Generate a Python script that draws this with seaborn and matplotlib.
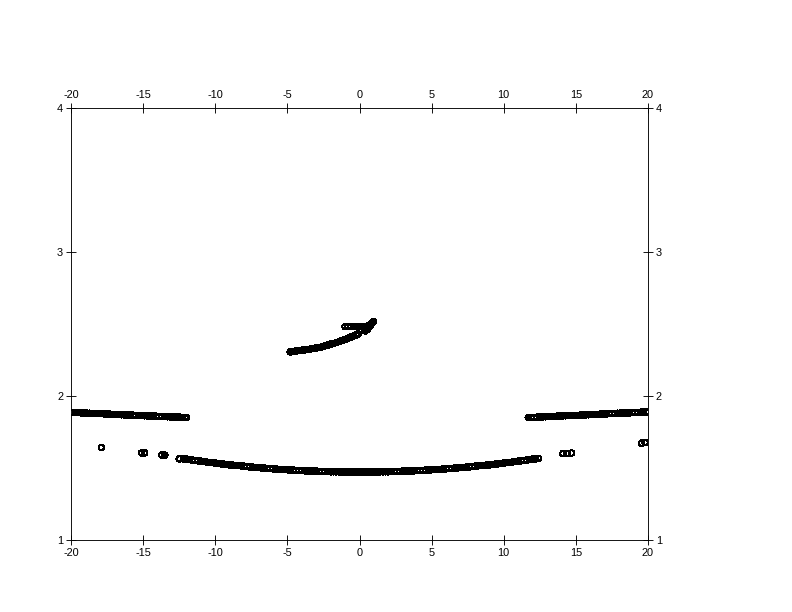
import matplotlib
matplotlib.use("Agg")
import matplotlib.pyplot as plt
import seaborn as sns
import pandas as pd

plt.rcParams["axes.unicode_minus"] = False

# Upper-left flat branch
xa = [-19.9, -19.7, -19.5, -19.3, -19.1, -18.9, -18.7, -18.5, -18.3, -18.1, -17.9, -17.7,
      -17.5, -17.3, -17.1, -16.9, -16.7, -16.5, -16.3, -16.1, -15.9, -15.7, -15.5, -15.3,
      -15.1, -14.9, -14.7, -14.5, -14.3, -14.1, -13.9, -13.7, -13.5, -13.3, -13.1, -12.9,
      -12.7, -12.5, -12.3, -12.1, -12.0]
ya = [1.886, 1.885, 1.884, 1.883, 1.882, 1.881, 1.880, 1.879, 1.878, 1.878, 1.877, 1.876,
      1.875, 1.874, 1.873, 1.872, 1.871, 1.870, 1.869, 1.869, 1.868, 1.867, 1.866, 1.865,
      1.864, 1.863, 1.862, 1.861, 1.860, 1.860, 1.859, 1.858, 1.857, 1.856, 1.855, 1.854,
      1.853, 1.853, 1.852, 1.851, 1.851]

# Upper-right flat branch
xb = [11.7, 11.9, 12.1, 12.3, 12.5, 12.7, 12.9, 13.1, 13.3, 13.5, 13.7, 13.9, 14.1, 14.3,
      14.5, 14.7, 14.9, 15.1, 15.3, 15.5, 15.7, 15.9, 16.1, 16.3, 16.5, 16.7, 16.9, 17.1,
      17.3, 17.5, 17.7, 17.9, 18.1, 18.3, 18.5, 18.7, 18.9, 19.1, 19.3, 19.5, 19.7, 19.9,
      20.0]
yb = [1.851, 1.851, 1.852, 1.853, 1.854, 1.855, 1.856, 1.857, 1.858, 1.859, 1.860, 1.861,
      1.862, 1.863, 1.864, 1.865, 1.866, 1.866, 1.867, 1.868, 1.869, 1.870, 1.871, 1.872,
      1.873, 1.874, 1.875, 1.876, 1.877, 1.878, 1.879, 1.880, 1.881, 1.881, 1.882, 1.883,
      1.884, 1.885, 1.886, 1.887, 1.888, 1.889, 1.889]

# Lower bowl-shaped branch
xc = [-12.2, -12.0, -11.8, -11.6, -11.4, -11.2, -11.0, -10.8, -10.6, -10.4, -10.2, -10.0,
      -9.8, -9.6, -9.4, -9.2, -9.0, -8.8, -8.6, -8.4, -8.2, -8.0, -7.8, -7.6, -7.4, -7.2,
      -7.0, -6.8, -6.6, -6.4, -6.2, -6.0, -5.8, -5.6, -5.4, -5.2, -5.0, -4.8, -4.6, -4.4,
      -4.2, -4.0, -3.8, -3.6, -3.4, -3.2, -3.0, -2.8, -2.6, -2.4, -2.2, -2.0, -1.8, -1.6,
      -1.4, -1.2, -1.0, -0.8, -0.6, -0.4, -0.2, 0.0, 0.2, 0.4, 0.6, 0.8, 1.0, 1.2, 1.4,
      1.6, 1.8, 2.0, 2.2, 2.4, 2.6, 2.8, 3.0, 3.2, 3.4, 3.6, 3.8, 4.0, 4.2, 4.4, 4.6, 4.8,
      5.0, 5.2, 5.4, 5.6, 5.8, 6.0, 6.2, 6.4, 6.6, 6.8, 7.0, 7.2, 7.4, 7.6, 7.8, 8.0, 8.2,
      8.4, 8.6, 8.8, 9.0, 9.2, 9.4, 9.6, 9.8, 10.0, 10.2, 10.4, 10.6, 10.8, 11.0, 11.2,
      11.4, 11.6, 11.8, 12.0, 12.2, 12.4]
yc = [1.564, 1.561, 1.558, 1.555, 1.553, 1.550, 1.547, 1.544, 1.542, 1.539, 1.537, 1.534,
      1.532, 1.529, 1.527, 1.524, 1.522, 1.520, 1.518, 1.516, 1.514, 1.512, 1.510, 1.508,
      1.506, 1.504, 1.502, 1.501, 1.499, 1.497, 1.496, 1.494, 1.493, 1.491, 1.490, 1.489,
      1.488, 1.486, 1.485, 1.484, 1.483, 1.482, 1.481, 1.480, 1.479, 1.478, 1.478, 1.477,
      1.476, 1.476, 1.475, 1.474, 1.474, 1.474, 1.473, 1.473, 1.473, 1.472, 1.472, 1.472,
      1.472, 1.472, 1.472, 1.472, 1.472, 1.472, 1.473, 1.473, 1.473, 1.474, 1.474, 1.474,
      1.475, 1.476, 1.476, 1.477, 1.478, 1.478, 1.479, 1.480, 1.481, 1.482, 1.483, 1.484,
      1.485, 1.486, 1.488, 1.489, 1.490, 1.491, 1.493, 1.494, 1.496, 1.497, 1.499, 1.501,
      1.502, 1.504, 1.506, 1.508, 1.510, 1.512, 1.514, 1.516, 1.518, 1.520, 1.522, 1.524,
      1.527, 1.529, 1.532, 1.534, 1.537, 1.539, 1.542, 1.544, 1.547, 1.550, 1.553, 1.555,
      1.558, 1.561, 1.564, 1.567]

# Middle rising branch
xd = [-4.8, -4.6, -4.4, -4.2, -4.0, -3.8, -3.6, -3.4, -3.2, -3.0, -2.8, -2.6, -2.4, -2.2,
      -2.0, -1.8, -1.6, -1.4, -1.2, -1.0, -0.8, -0.6, -0.4, -0.2, -0.1]
yd = [2.307, 2.310, 2.312, 2.315, 2.318, 2.320, 2.323, 2.326, 2.330, 2.334, 2.338, 2.342,
      2.348, 2.354, 2.360, 2.366, 2.373, 2.379, 2.386, 2.393, 2.401, 2.409, 2.417, 2.425,
      2.430]

# Middle upper segment with hook
xe = [-1.0, -0.8, -0.6, -0.4, -0.2, 0.0, 0.2, 0.4, 0.55, 0.7, 0.85, 0.95, 0.9, 0.8, 0.7,
      0.6, 0.5, 0.4]
ye = [2.482, 2.482, 2.482, 2.482, 2.482, 2.482, 2.482, 2.483, 2.486, 2.494, 2.506, 2.516,
      2.508, 2.496, 2.482, 2.470, 2.460, 2.452]

# Isolated points
xf = [-17.9, -15.1, -14.9, -13.7, -13.5, -12.5, 14.1, 14.4, 14.7, 19.55, 19.8]
yf = [1.643, 1.605, 1.605, 1.590, 1.590, 1.563, 1.600, 1.602, 1.604, 1.672, 1.678]

df = pd.DataFrame({
    "x": xa + xb + xc + xd + xe + xf,
    "y": ya + yb + yc + yd + ye + yf,
})

fig = plt.figure(figsize=(11, 8.5), dpi=72)
ax = fig.add_axes([71 / 792, 72 / 612, 577 / 792, 432 / 612])

sns.scatterplot(data=df, x="x", y="y", ax=ax, marker="o", s=30,
                facecolors="none", edgecolor="black", linewidth=1.1, legend=False)
for coll in ax.collections:
    coll.set_antialiased(False)

ax.set_xlim(-20, 20)
ax.set_ylim(1, 4)
ax.set_xticks([-20, -15, -10, -5, 0, 5, 10, 15, 20])
ax.set_yticks([1, 2, 3, 4])
ax.set_xlabel("")
ax.set_ylabel("")
for s in ax.spines.values():
    s.set_linewidth(0.9)
    s.set_color("black")
ax.tick_params(direction="inout", length=10, width=0.9, labelsize=11,
               top=True, labeltop=True, right=True, labelright=True, pad=3)
for lab in ax.get_xticklabels() + ax.get_yticklabels():
    lab.set_family("Liberation Sans")

fig.savefig("out.png", dpi=72)
